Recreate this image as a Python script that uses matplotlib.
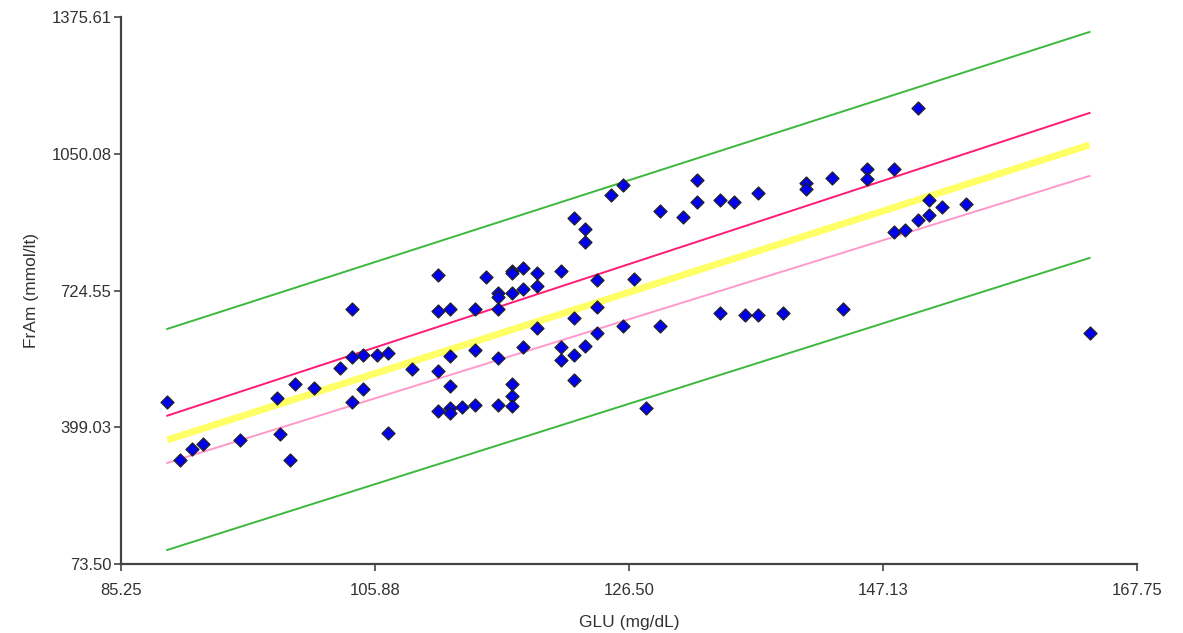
import matplotlib
matplotlib.use("Agg")
import matplotlib.pyplot as plt
from matplotlib import font_manager

# ---- data ----
glu = [89.0, 90.0, 91.0, 91.9, 94.9, 98.2, 99.0, 97.9, 99.4, 100.9,
       103.0, 104.0, 104.0, 104.0, 104.9, 104.9, 106.0, 106.9, 106.9, 108.9,
       111.0, 111.0, 111.0, 111.0, 112.0, 112.0, 112.0, 112.0, 112.0, 112.9,
       114.0, 114.0, 114.0, 114.9, 115.9, 115.9, 115.9, 115.9, 115.9, 117.0,
       117.0, 117.0, 117.0, 117.0, 117.0, 117.9, 117.9, 117.9, 119.0, 119.0,
       119.0, 121.0, 121.0, 121.0, 122.0, 122.0, 122.0, 122.0, 122.9, 122.9,
       122.9, 123.9, 123.9, 123.9, 125.0, 126.0, 126.0, 126.9, 127.9, 129.0,
       129.0, 130.9, 132.0, 132.0, 133.9, 133.9, 135.0, 135.9, 137.0, 137.0,
       139.0, 140.9, 140.9, 143.0, 143.9, 145.8, 145.8, 148.0, 148.0, 148.9,
       150.0, 150.0, 150.9, 150.9, 151.9, 153.9, 163.9]
fram = [458.7, 320.5, 347.4, 360.1, 368.2, 382.4, 320.5, 468.9, 501.5, 492.0,
        541.1, 680.2, 567.3, 458.7, 571.3, 490.4, 571.3, 576.1, 384.8, 538.0,
        762.6, 676.1, 533.2, 437.2, 680.2, 567.8, 498.2, 443.9, 432.0, 447.0,
        680.2, 582.8, 452.2, 757.9, 719.0, 709.5, 680.2, 564.2, 452.2, 772.1,
        765.5, 719.7, 502.3, 473.0, 450.6, 779.3, 727.8, 589.7, 767.4, 736.4,
        636.4, 770.7, 589.7, 559.4, 897.0, 659.5, 571.3, 511.8, 870.8, 840.5,
        592.8, 749.3, 686.4, 623.7, 953.2, 976.3, 641.1, 753.1, 445.1, 914.3,
        641.1, 900.8, 987.5, 935.8, 939.8, 672.1, 935.1, 667.3, 957.2, 667.3,
        672.1, 980.3, 966.0, 992.2, 680.2, 1015.1, 989.9, 1014.4, 865.0, 869.8,
        1160.4, 892.2, 904.8, 940.5, 923.2, 931.7, 623.7]

line_x = [89.0, 163.9]
upper_band = [633.3, 1340.7]
lower_band = [106.9, 802.4]
upper_ci = [426.7, 1147.8]
fit_line = [368.9, 1071.6]
lower_ci = [314.1, 997.7]

x_ticks = [85.25, 105.88, 126.50, 147.13, 167.75]
y_ticks = [73.50, 399.03, 724.55, 1050.08, 1375.61]
x_label = "GLU (mg/dL)"
y_label = "FrAm (mmol/lt)"

# ---- font: a narrow sans if present ----
names = {f.name for f in font_manager.fontManager.ttflist}
if 'Liberation Sans Narrow' in names:
    fam = ['Liberation Sans Narrow', 'DejaVu Sans']
    tick_fs, lab_fs = 14.5, 14.5
else:
    fam = ['Liberation Sans', 'DejaVu Sans']
    tick_fs, lab_fs = 12, 12.5
plt.rcParams['font.family'] = fam

fig = plt.figure(figsize=(11.83, 6.33), dpi=100)
ax = fig.add_axes([0.1023, 0.109, 0.8588, 0.8637])

ax.plot(line_x, upper_band, color='#3cb83c', lw=1.4, zorder=2)
ax.plot(line_x, lower_band, color='#3cb83c', lw=1.4, zorder=2)
ax.plot(line_x, fit_line, color='#ffff66', lw=5, solid_capstyle='butt', zorder=2)
ax.plot(line_x, upper_ci, color='#ff1a75', lw=1.4, zorder=2)
ax.plot(line_x, lower_ci, color='#ff99cc', lw=1.4, zorder=2)
ax.scatter(glu, fram, marker='D', s=44, c='#0000ee', edgecolors='#222222',
           linewidths=0.9, zorder=3)

ax.set_xlim(x_ticks[0], x_ticks[-1])
ax.set_ylim(y_ticks[0], y_ticks[-1])
ax.set_xticks(x_ticks)
ax.set_xticklabels([f"{v:.2f}" for v in x_ticks])
ax.set_yticks(y_ticks)
ax.set_yticklabels([f"{v:.2f}" for v in y_ticks])

for s in ['top', 'right']:
    ax.spines[s].set_visible(False)
for s in ['left', 'bottom']:
    ax.spines[s].set_color('#444444')
    ax.spines[s].set_linewidth(1.6)
ax.tick_params(axis='both', direction='out', length=5, width=1.2,
               colors='#444444', labelcolor='#333333', labelsize=tick_fs)
ax.tick_params(axis='x', pad=9)
ax.tick_params(axis='y', pad=2)

ax.set_xlabel(x_label, fontsize=lab_fs, color='#333333', labelpad=12)
ax.set_ylabel(y_label, fontsize=lab_fs, color='#333333', labelpad=9)

fig.savefig("out.png", dpi=100, facecolor='white')
